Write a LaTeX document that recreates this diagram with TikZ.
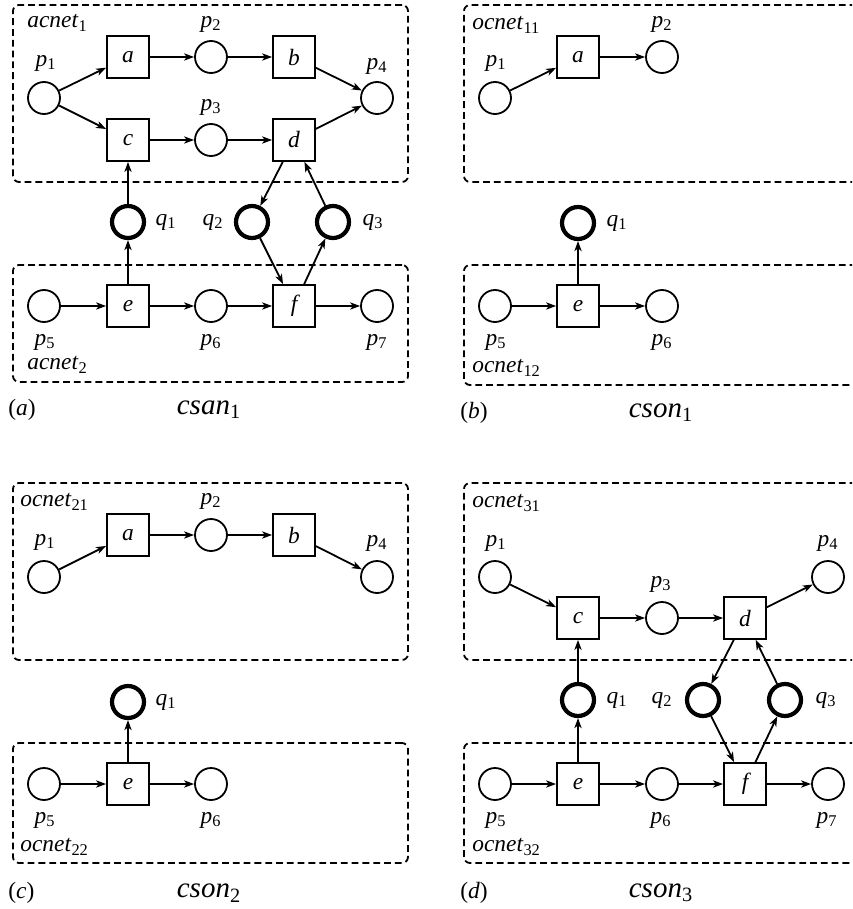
\documentclass[tikz,border=0pt]{standalone}
\usepackage{fontspec}
\setmainfont{Liberation Serif}
\usetikzlibrary{arrows.meta}
\tikzset{
  pnode/.style={circle,draw,line width=0.9pt,minimum size=16pt,inner sep=0pt},
  chnode/.style={circle,draw,line width=2.1pt,minimum size=16pt,inner sep=0pt},
  tnode/.style={rectangle,draw,line width=0.9pt,minimum size=21pt,inner sep=0pt,font=\fontsize{11.7}{13}\selectfont\itshape},
  lbl/.style={inner sep=0pt,font=\fontsize{11.7}{13}\selectfont},
  captxt/.style={inner sep=0pt,font=\fontsize{14.5}{16}\selectfont},
  netbox/.style={draw,line width=0.9pt,dash pattern=on 3.4pt off 2pt,rounded corners=3pt},
  arcline/.style={line width=0.9pt,-{Stealth[length=5pt,width=3.6pt,inset=1.4pt]}},
}
\newcommand{\pl}[2]{\textit{#1}\textsubscript{#2}}
\begin{document}
\begin{tikzpicture}[x=0.5pt,y=-0.5pt]
\useasboundingbox (0,0) rectangle (852,909);
\begin{scope}
\clip (0,0) rectangle (852,909);
% ================= (a) =================
\node[netbox,minimum width=197.5pt,minimum height=88.5pt] (A1) at (210.5,93.5) {};
\node[netbox,minimum width=197.5pt,minimum height=58.5pt] (A2) at (210.5,323.5) {};
\node[lbl,anchor=west] (A1l) at (27,23) {\pl{acnet}{1}};
\node[lbl,anchor=west] (A2l) at (27,365) {\pl{acnet}{2}};
\node[pnode] (ap1) at (44,98) {};
\node[tnode] (aa) at (128,57) {a};
\node[pnode] (ap2) at (211,57) {};
\node[tnode] (ab) at (294,57) {b};
\node[pnode] (ap4) at (377,98) {};
\node[tnode] (ac) at (128,140) {c};
\node[pnode] (ap3) at (211,140) {};
\node[tnode] (ad) at (294,140) {d};
\node[chnode] (aq1) at (128,222) {};
\node[chnode] (aq2) at (252,222) {};
\node[chnode] (aq3) at (333,222) {};
\node[pnode] (ap5) at (44,306) {};
\node[tnode] (ae) at (128,306) {e};
\node[pnode] (ap6) at (211,306) {};
\node[tnode] (af) at (294,306) {f};
\node[pnode] (ap7) at (377,306) {};
\node[lbl] (ap1l) at (46,63) {\pl{p}{1}};
\node[lbl] (ap2l) at (211,24) {\pl{p}{2}};
\node[lbl] (ap3l) at (211,107) {\pl{p}{3}};
\node[lbl] (ap4l) at (377,66) {\pl{p}{4}};
\node[lbl] (aq1l) at (166,222) {\pl{q}{1}};
\node[lbl] (aq2l) at (213,222) {\pl{q}{2}};
\node[lbl] (aq3l) at (373,222) {\pl{q}{3}};
\node[lbl] (ap5l) at (45,342) {\pl{p}{5}};
\node[lbl] (ap6l) at (211,342) {\pl{p}{6}};
\node[lbl] (ap7l) at (377,342) {\pl{p}{7}};
\node[lbl,anchor=west] (acap) at (8,410) {(\textit{a})};
\node[captxt] (acsan) at (209,410) {\pl{csan}{1}};
\draw[arcline] (ap1) -- (aa);
\draw[arcline] (ap1) -- (ac);
\draw[arcline] (aa) -- (ap2);
\draw[arcline] (ap2) -- (ab);
\draw[arcline] (ab) -- (ap4);
\draw[arcline] (ac) -- (ap3);
\draw[arcline] (ap3) -- (ad);
\draw[arcline] (ad) -- (ap4);
\draw[arcline] (aq1) -- (ac);
\draw[arcline] (ae) -- (aq1);
\draw[arcline] (ad) -- (aq2);
\draw[arcline] (aq3) -- (ad);
\draw[arcline] (aq2) -- (af);
\draw[arcline] (af) -- (aq3);
\draw[arcline] (ap5) -- (ae);
\draw[arcline] (ae) -- (ap6);
\draw[arcline] (ap6) -- (af);
\draw[arcline] (af) -- (ap7);
% ================= (b) =================
\node[netbox,minimum width=210pt,minimum height=88.5pt] (B1) at (674,93.5) {};
\node[netbox,minimum width=210pt,minimum height=60pt] (B2) at (674,325) {};
\node[lbl,anchor=west] (B1l) at (472,25) {\pl{ocnet}{11}};
\node[lbl,anchor=west] (B2l) at (472,368) {\pl{ocnet}{12}};
\node[pnode] (bp1) at (495,98) {};
\node[tnode] (ba) at (578,57) {a};
\node[pnode] (bp2) at (662,57) {};
\node[chnode] (bq1) at (578,223) {};
\node[pnode] (bp5) at (495,306) {};
\node[tnode] (be) at (578,306) {e};
\node[pnode] (bp6) at (662,306) {};
\node[lbl] (bp1l) at (496,63) {\pl{p}{1}};
\node[lbl] (bp2l) at (662,24) {\pl{p}{2}};
\node[lbl] (bq1l) at (617,223) {\pl{q}{1}};
\node[lbl] (bp5l) at (496,342) {\pl{p}{5}};
\node[lbl] (bp6l) at (662,342) {\pl{p}{6}};
\node[lbl,anchor=west] (bcap) at (460,413) {(\textit{b})};
\node[captxt] (bcson) at (661,413) {\pl{cson}{1}};
\draw[arcline] (bp1) -- (ba);
\draw[arcline] (ba) -- (bp2);
\draw[arcline] (be) -- (bq1);
\draw[arcline] (bp5) -- (be);
\draw[arcline] (be) -- (bp6);
% ================= (c) =================
\node[netbox,minimum width=197.5pt,minimum height=88.5pt] (C1) at (210.5,571.5) {};
\node[netbox,minimum width=197.5pt,minimum height=60pt] (C2) at (210.5,803) {};
\node[lbl,anchor=west] (C1l) at (20,502) {\pl{ocnet}{21}};
\node[lbl,anchor=west] (C2l) at (20,847) {\pl{ocnet}{22}};
\node[pnode] (cp1) at (44,577) {};
\node[tnode] (ca) at (128,535) {a};
\node[pnode] (cp2) at (211,535) {};
\node[tnode] (cb) at (294,535) {b};
\node[pnode] (cp4) at (377,577) {};
\node[chnode] (cq1) at (128,702) {};
\node[pnode] (cp5) at (44,784) {};
\node[tnode] (ce) at (128,784) {e};
\node[pnode] (cp6) at (211,784) {};
\node[lbl] (cp1l) at (45,542) {\pl{p}{1}};
\node[lbl] (cp2l) at (211,501) {\pl{p}{2}};
\node[lbl] (cp4l) at (377,543) {\pl{p}{4}};
\node[lbl] (cq1l) at (166,702) {\pl{q}{1}};
\node[lbl] (cp5l) at (45,820) {\pl{p}{5}};
\node[lbl] (cp6l) at (211,820) {\pl{p}{6}};
\node[lbl,anchor=west] (ccap) at (8,893) {(\textit{c})};
\node[captxt] (ccson) at (209,893) {\pl{cson}{2}};
\draw[arcline] (cp1) -- (ca);
\draw[arcline] (ca) -- (cp2);
\draw[arcline] (cp2) -- (cb);
\draw[arcline] (cb) -- (cp4);
\draw[arcline] (ce) -- (cq1);
\draw[arcline] (cp5) -- (ce);
\draw[arcline] (ce) -- (cp6);
% ================= (d) =================
\node[netbox,minimum width=210pt,minimum height=88.5pt] (D1) at (674,571.5) {};
\node[netbox,minimum width=210pt,minimum height=60pt] (D2) at (674,803) {};
\node[lbl,anchor=west] (D1l) at (472,503) {\pl{ocnet}{31}};
\node[lbl,anchor=west] (D2l) at (472,847) {\pl{ocnet}{32}};
\node[pnode] (dp1) at (495,577) {};
\node[tnode] (dc) at (578,618) {c};
\node[pnode] (dp3) at (662,618) {};
\node[tnode] (dd) at (745,618) {d};
\node[pnode] (dp4) at (828,577) {};
\node[chnode] (dq1) at (578,700) {};
\node[chnode] (dq2) at (703,700) {};
\node[chnode] (dq3) at (785,700) {};
\node[pnode] (dp5) at (495,784) {};
\node[tnode] (de) at (578,784) {e};
\node[pnode] (dp6) at (662,784) {};
\node[tnode] (df) at (745,784) {f};
\node[pnode] (dp7) at (828,784) {};
\node[lbl] (dp1l) at (496,543) {\pl{p}{1}};
\node[lbl] (dp3l) at (661,584) {\pl{p}{3}};
\node[lbl] (dp4l) at (828,543) {\pl{p}{4}};
\node[lbl] (dq1l) at (617,700) {\pl{q}{1}};
\node[lbl] (dq2l) at (662,700) {\pl{q}{2}};
\node[lbl] (dq3l) at (826,700) {\pl{q}{3}};
\node[lbl] (dp5l) at (496,820) {\pl{p}{5}};
\node[lbl] (dp6l) at (661,820) {\pl{p}{6}};
\node[lbl] (dp7l) at (827,820) {\pl{p}{7}};
\node[lbl,anchor=west] (dcap) at (460,893) {(\textit{d})};
\node[captxt] (dcson) at (661,893) {\pl{cson}{3}};
\draw[arcline] (dp1) -- (dc);
\draw[arcline] (dc) -- (dp3);
\draw[arcline] (dp3) -- (dd);
\draw[arcline] (dd) -- (dp4);
\draw[arcline] (dq1) -- (dc);
\draw[arcline] (de) -- (dq1);
\draw[arcline] (dd) -- (dq2);
\draw[arcline] (dq3) -- (dd);
\draw[arcline] (dq2) -- (df);
\draw[arcline] (df) -- (dq3);
\draw[arcline] (dp5) -- (de);
\draw[arcline] (de) -- (dp6);
\draw[arcline] (dp6) -- (df);
\draw[arcline] (df) -- (dp7);
\end{scope}
\end{tikzpicture}
\end{document}
